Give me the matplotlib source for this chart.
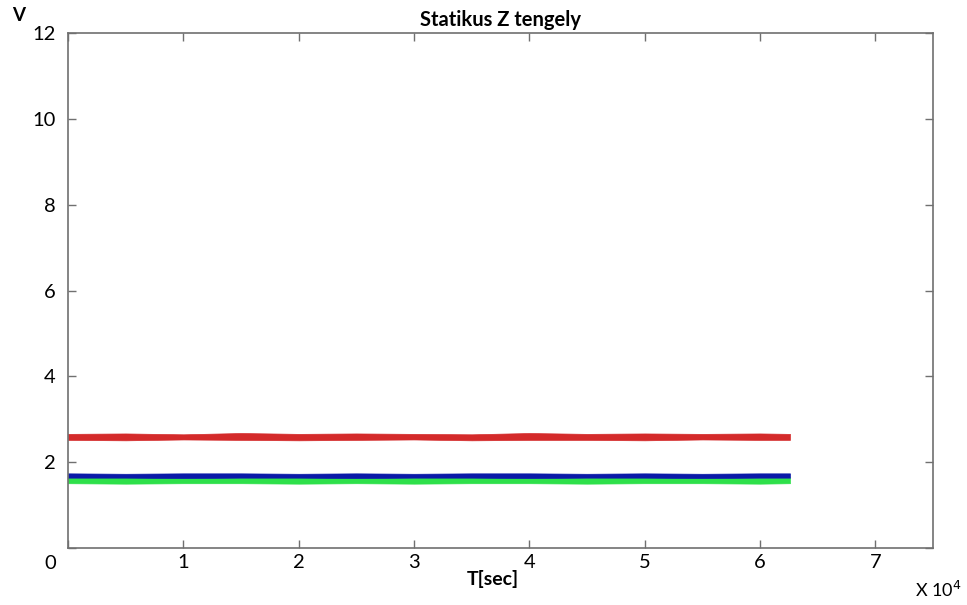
import matplotlib
matplotlib.use("Agg")
import matplotlib.pyplot as plt

plt.rcParams["font.family"] = ["Lato", "DejaVu Sans"]

# time samples (sec) and noise band edges
t = [0, 5000, 10000, 15000, 20000, 25000, 30000, 35000, 40000, 45000, 50000, 55000, 60000, 62600]

red_hi = [2.66, 2.67, 2.65, 2.68, 2.66, 2.67, 2.66, 2.65, 2.68, 2.66, 2.67, 2.66, 2.67, 2.66]
red_lo = [2.52, 2.51, 2.53, 2.52, 2.51, 2.52, 2.53, 2.51, 2.52, 2.52, 2.51, 2.53, 2.52, 2.52]

blue_hi = [1.74, 1.73, 1.74, 1.74, 1.73, 1.74, 1.73, 1.74, 1.74, 1.73, 1.74, 1.73, 1.74, 1.74]
blue_lo = [1.64, 1.64, 1.63, 1.64, 1.64, 1.63, 1.64, 1.64, 1.63, 1.64, 1.64, 1.63, 1.64, 1.64]

green_hi = [1.64, 1.65, 1.64, 1.64, 1.65, 1.64, 1.64, 1.65, 1.64, 1.64, 1.65, 1.64, 1.64, 1.64]
green_lo = [1.51, 1.50, 1.51, 1.51, 1.50, 1.51, 1.50, 1.51, 1.51, 1.50, 1.51, 1.51, 1.50, 1.51]

x_ticks = [0, 10000, 20000, 30000, 40000, 50000, 60000, 70000]
x_labels = ["", "1", "2", "3", "4", "5", "6", "7"]
y_ticks = [0, 2, 4, 6, 8, 10, 12]
y_labels = ["", "2", "4", "6", "8", "10", "12"]

fig = plt.figure(figsize=(9.67, 6.05), dpi=100)
ax = fig.add_axes([0.0703, 0.0942, 0.8945, 0.851])

ax.fill_between(t, green_lo, green_hi, color="#2ee04a", lw=0.5, edgecolor="#2ee04a")
ax.fill_between(t, blue_lo, blue_hi, color="#0a1aa8", lw=0.5, edgecolor="#0a1aa8")
ax.fill_between(t, red_lo, red_hi, color="#d42a2a", lw=0.5, edgecolor="#d42a2a")

ax.set_xlim(0, 75000)
ax.set_ylim(0, 12)
ax.set_xticks(x_ticks)
ax.set_xticklabels(x_labels)
ax.set_yticks(y_ticks)
ax.set_yticklabels(y_labels)

for s in ax.spines.values():
    s.set_color("#707070")
    s.set_linewidth(1.2)
ax.tick_params(direction="in", length=6, width=1, color="#707070",
               top=True, right=True, labelsize=14.5)
ax.tick_params(axis="x", pad=4)
ax.tick_params(axis="y", pad=9)

ax.set_title("Statikus Z tengely", fontsize=14.5, fontweight="bold", pad=5)
fig.text(0.510, 0.043, "T[sec]", fontsize=14, fontweight="bold", ha="center", va="center")
fig.text(0.052, 0.069, "0", fontsize=14.5, ha="center", va="center")
fig.text(0.013, 0.965, "V", fontsize=13.5, fontweight="bold")
fig.text(0.994, 0.013, "X 10$^4$", fontsize=13, ha="right")

fig.savefig("out.png", dpi=100)
